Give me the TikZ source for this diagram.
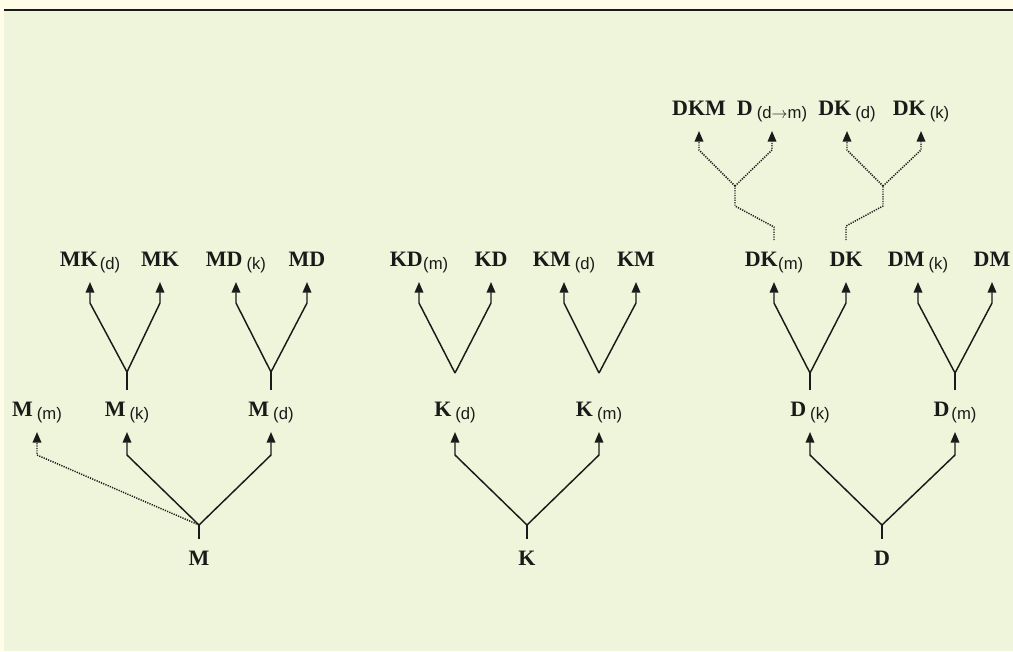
\documentclass[tikz,border=0pt]{standalone}
\usepackage{fontspec}
\setmainfont{Liberation Serif}
\setsansfont{Liberation Sans}
\usetikzlibrary{arrows.meta}
\definecolor{bgy}{HTML}{FFFDE7}
\definecolor{bgg}{HTML}{EFF5DA}
\definecolor{ink}{HTML}{1A1A1A}
\newcommand{\lb}[3][0.8pt]{\textbf{#2}\kern#1\raisebox{-2.5pt}{\sffamily\fontsize{12.5}{12.5}\selectfont(#3)}}
\begin{document}
\begin{tikzpicture}[x=0.75pt,y=-0.75pt,
  lab/.style={anchor=base, inner sep=0pt, outer sep=0pt, text height=19.5pt, text depth=12pt,
    font=\fontsize{16.5}{18}\selectfont, text=ink},
  link/.style={draw=ink, line width=1.1pt},
  arr/.style={link, -{Triangle[length=8pt,width=6.5pt]}},
  dotl/.style={dash pattern=on 0.9pt off 0.9pt}]
\useasboundingbox (0,0) rectangle (1013,651);
\fill[bgy] (0,0) rectangle (1013,651);
\fill[bgg] (4,11) rectangle (1013,651);
\draw[ink, line width=1.6pt] (4,10) -- (1013,10);

% bend levels
\coordinate (bA) at (0,455);
\coordinate (bB) at (0,303);
\coordinate (bC) at (0,150);

% roots
\node[lab] (M) at (199,565) {\textbf{M}};
\node[lab] (K) at (527,565) {\textbf{K}};
\node[lab] (D) at (882,565) {\textbf{D}};

% level 1
\node[lab] (Mm) at (37,416) {\lb[3pt]{M}{m}};
\node[lab] (Mk) at (127,416) {\lb[3pt]{M}{k}};
\node[lab] (Md) at (271,416) {\lb[3pt]{M}{d}};
\node[lab] (Kd) at (455,416) {\lb[3pt]{K}{d}};
\node[lab] (Km) at (599,416) {\lb[3pt]{K}{m}};
\node[lab] (Dk) at (810,416) {\lb[3pt]{D}{k}};
\node[lab] (Dm) at (955,416) {\lb[1.5pt]{D}{m}};

% level 2
\node[lab] (MKd) at (90,266) {\lb[1.5pt]{MK}{d}};
\node[lab] (MK) at (160,266) {\textbf{MK}};
\node[lab] (MDk) at (236,266) {\lb[3pt]{MD}{k}};
\node[lab] (MD) at (307,266) {\textbf{MD}};
\node[lab] (KDm) at (419,266) {\lb[0.3pt]{KD}{m}};
\node[lab] (KD) at (491,266) {\textbf{KD}};
\node[lab] (KMd) at (564,266) {\lb[3pt]{KM}{d}};
\node[lab] (KM) at (636,266) {\textbf{KM}};
\node[lab] (DKm) at (774,266) {\lb[0.3pt]{DK}{m}};
\node[lab] (DK) at (846,266) {\textbf{DK}};
\node[lab] (DMk) at (918,266) {\lb[3pt]{DM}{k}};
\node[lab] (DM) at (992,266) {\textbf{DM}};

% level 3
\node[lab] (DKM) at (699,115) {\textbf{DKM}};
\node[lab] (Ddm) at (772,115) {\lb[3pt]{D}{d$\rightarrow$m}};
\node[lab] (DKd) at (847,115) {\lb[3pt]{DK}{d}};
\node[lab] (DKk) at (921,115) {\lb[3pt]{DK}{k}};

% junctions
\coordinate (jM) at (199,525);
\coordinate (jK) at (527,525);
\coordinate (jD) at (882,525);
\coordinate (jMk) at (127,372);
\coordinate (jMd) at (271,372);
\coordinate (jKd) at (455,373);
\coordinate (jKm) at (599,373);
\coordinate (jDk) at (810,373);
\coordinate (jDm) at (955,373);
\coordinate (jDKm) at (735,186);
\coordinate (jDK) at (883,186);

% M tree
\draw[link] (M.north) -- (jM);
\draw[arr] (jM) -- (Mk.south |- bA) -- (Mk.south);
\draw[arr] (jM) -- (Md.south |- bA) -- (Md.south);
\draw[arr,dotl] (jM) -- (Mm.south |- bA) -- (Mm.south);
\draw[link] (Mk.north) -- (jMk);
\draw[arr] (jMk) -- (MKd.south |- bB) -- (MKd.south);
\draw[arr] (jMk) -- (MK.south |- bB) -- (MK.south);
\draw[link] (Md.north) -- (jMd);
\draw[arr] (jMd) -- (MDk.south |- bB) -- (MDk.south);
\draw[arr] (jMd) -- (MD.south |- bB) -- (MD.south);

% K tree
\draw[link] (K.north) -- (jK);
\draw[arr] (jK) -- (Kd.south |- bA) -- (Kd.south);
\draw[arr] (jK) -- (Km.south |- bA) -- (Km.south);
\draw[arr] (jKd) -- (KDm.south |- bB) -- (KDm.south);
\draw[arr] (jKd) -- (KD.south |- bB) -- (KD.south);
\draw[arr] (jKm) -- (KMd.south |- bB) -- (KMd.south);
\draw[arr] (jKm) -- (KM.south |- bB) -- (KM.south);

% D tree
\draw[link] (D.north) -- (jD);
\draw[arr] (jD) -- (Dk.south |- bA) -- (Dk.south);
\draw[arr] (jD) -- (Dm.south |- bA) -- (Dm.south);
\draw[link] (Dk.north) -- (jDk);
\draw[arr] (jDk) -- (DKm.south |- bB) -- (DKm.south);
\draw[arr] (jDk) -- (DK.south |- bB) -- (DK.south);
\draw[link] (Dm.north) -- (jDm);
\draw[arr] (jDm) -- (DMk.south |- bB) -- (DMk.south);
\draw[arr] (jDm) -- (DM.south |- bB) -- (DM.south);

% dotted top level
\draw[link,dotl] (DKm.north) -- ++(0,-13) -- (735,206) -- (jDKm);
\draw[arr,dotl] (jDKm) -- (DKM.south |- bC) -- (DKM.south);
\draw[arr,dotl] (jDKm) -- (Ddm.south |- bC) -- (Ddm.south);
\draw[link,dotl] (DK.north) -- ++(0,-14) -- (883,206) -- (jDK);
\draw[arr,dotl] (jDK) -- (DKd.south |- bC) -- (DKd.south);
\draw[arr,dotl] (jDK) -- (DKk.south |- bC) -- (DKk.south);
\end{tikzpicture}
\end{document}
